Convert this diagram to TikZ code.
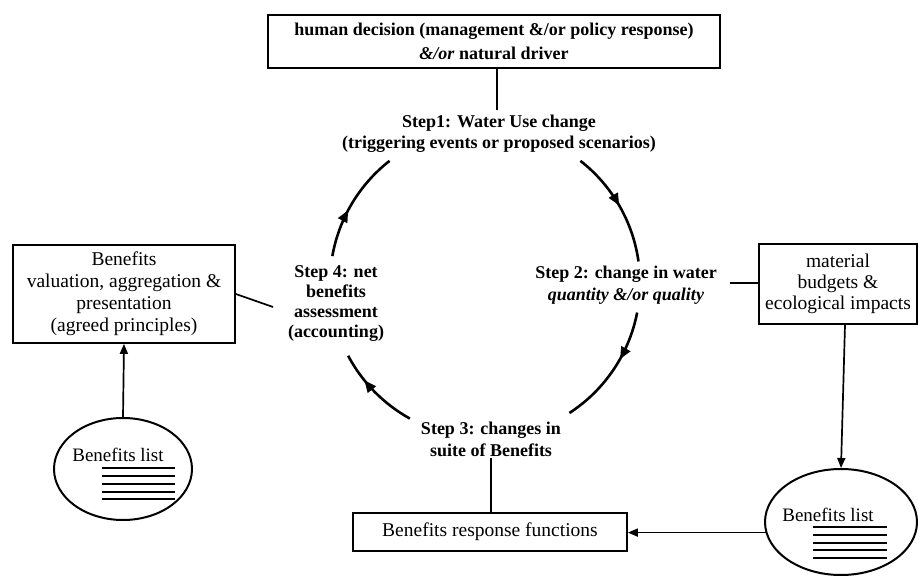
\documentclass[tikz,border=0pt]{standalone}
\usepackage{fontspec}
\setmainfont{Liberation Serif}
\usetikzlibrary{arrows.meta,shapes.geometric,decorations.markings}
\begin{document}
\begin{tikzpicture}[x=1pt,y=1pt,
 box/.style={draw, line width=1.7pt, align=center, inner sep=0pt, font=\fontsize{19.5}{22}\selectfont},
 steptxt/.style={align=center, font=\bfseries\fontsize{18}{22}\selectfont, inner sep=1pt},
 conn/.style={line width=1.7pt},
 arcline/.style={line width=2.6pt},
 tip/.style={-{Triangle[length=10pt,width=8pt]}},
 midarrow/.style={decoration={markings,mark=at position #1 with {\arrow{Triangle[length=12pt,width=10pt]}}},postaction={decorate}},
 listline/.style={line width=1.2pt},
 ell/.style={draw, ellipse, line width=2pt, inner sep=0pt},
 listtxt/.style={font=\fontsize{19}{19}\selectfont, inner sep=0pt}
]
\useasboundingbox (0,0) rectangle (918,579);

\node[box, font=\bfseries\fontsize{18}{24}\selectfont, minimum width=452pt, minimum height=53pt] (top) at (494,537.5)
  {human decision (management \&/or policy response)\\\textit{\&/or} natural driver};

\node[steptxt, font=\bfseries\fontsize{18}{21}\selectfont] (s1) at (499,445) {Step1: Water Use change\\(triggering events or proposed scenarios)};
\node[steptxt] (s2) at (626,294) {Step 2: change in water\\\textit{quantity \&/or quality}};
\node[steptxt] (s3) at (491,140) {Step 3: changes in\\suite of Benefits};
\node[steptxt, font=\bfseries\fontsize{18}{20}\selectfont] (s4) at (336,275) {Step 4: net\\benefits\\assessment\\(accounting)};

\node[box, minimum width=222pt, minimum height=98pt] (val) at (124,285)
  {Benefits\\valuation, aggregation \&\\presentation\\(agreed principles)};
\node[box, font=\fontsize{19.5}{21}\selectfont, minimum width=158pt, minimum height=80pt] (mat) at (838,295)
  {material\\budgets \&\\ecological impacts};
\node[box, minimum width=274pt, minimum height=38pt] (resp) at (490,47) {Benefits response functions};

\node[ell, minimum width=138pt, minimum height=102pt] (lel) at (123,110) {};
\node[listtxt] (lt) at ([shift={(-5,14)}]lel.center) {Benefits list};
\foreach \dy in {1,-7,-15,-23,-30}
  \draw[listline] ([shift={(-21,\dy)}]lel.center) -- ([shift={(52,\dy)}]lel.center);

\node[ell, minimum width=152pt, minimum height=106pt] (rel) at (841,57) {};
\node[listtxt] (rt) at ([shift={(-13,7)}]rel.center) {Benefits list};
\foreach \dy in {-5,-13,-21,-28,-36}
  \draw[listline] ([shift={(-28,\dy)}]rel.center) -- ([shift={(46,\dy)}]rel.center);

% connectors
\coordinate (s1top) at (497,469);
\draw[conn] ([xshift=3pt]top.south) -- (s1top);
\draw[conn] (s3.south) -- (s3.south |- resp.north);
\coordinate (s2r) at (730,296);
\draw[conn] (s2r) -- (mat.west |- s2r);
\coordinate (s4l) at (273,272);
\draw[conn] (val.east) -- (s4l);
\draw[conn, tip] ([xshift=7pt]mat.south) -- (rel.north);
\draw[conn, tip] (rel.188) -- (rel.188 -| resp.east);
\draw[conn, tip] (lel.north) -- (val.south);

% cycle arcs
\coordinate (c) at (485,296);
\draw[arcline, midarrow=0.5] ([shift={(52:155pt)}]c) arc[start angle=52, end angle=8, radius=155pt];
\draw[arcline, midarrow=0.4] ([shift={(-11:155pt)}]c) arc[start angle=-11, end angle=-57, radius=155pt];
\draw[arcline, midarrow=0.67] ([shift={(-119:155pt)}]c) arc[start angle=-119, end angle=-152, radius=155pt];
\draw[arcline, midarrow=0.43] ([shift={(170:155pt)}]c) arc[start angle=170, end angle=128, radius=155pt];
\end{tikzpicture}
\end{document}
